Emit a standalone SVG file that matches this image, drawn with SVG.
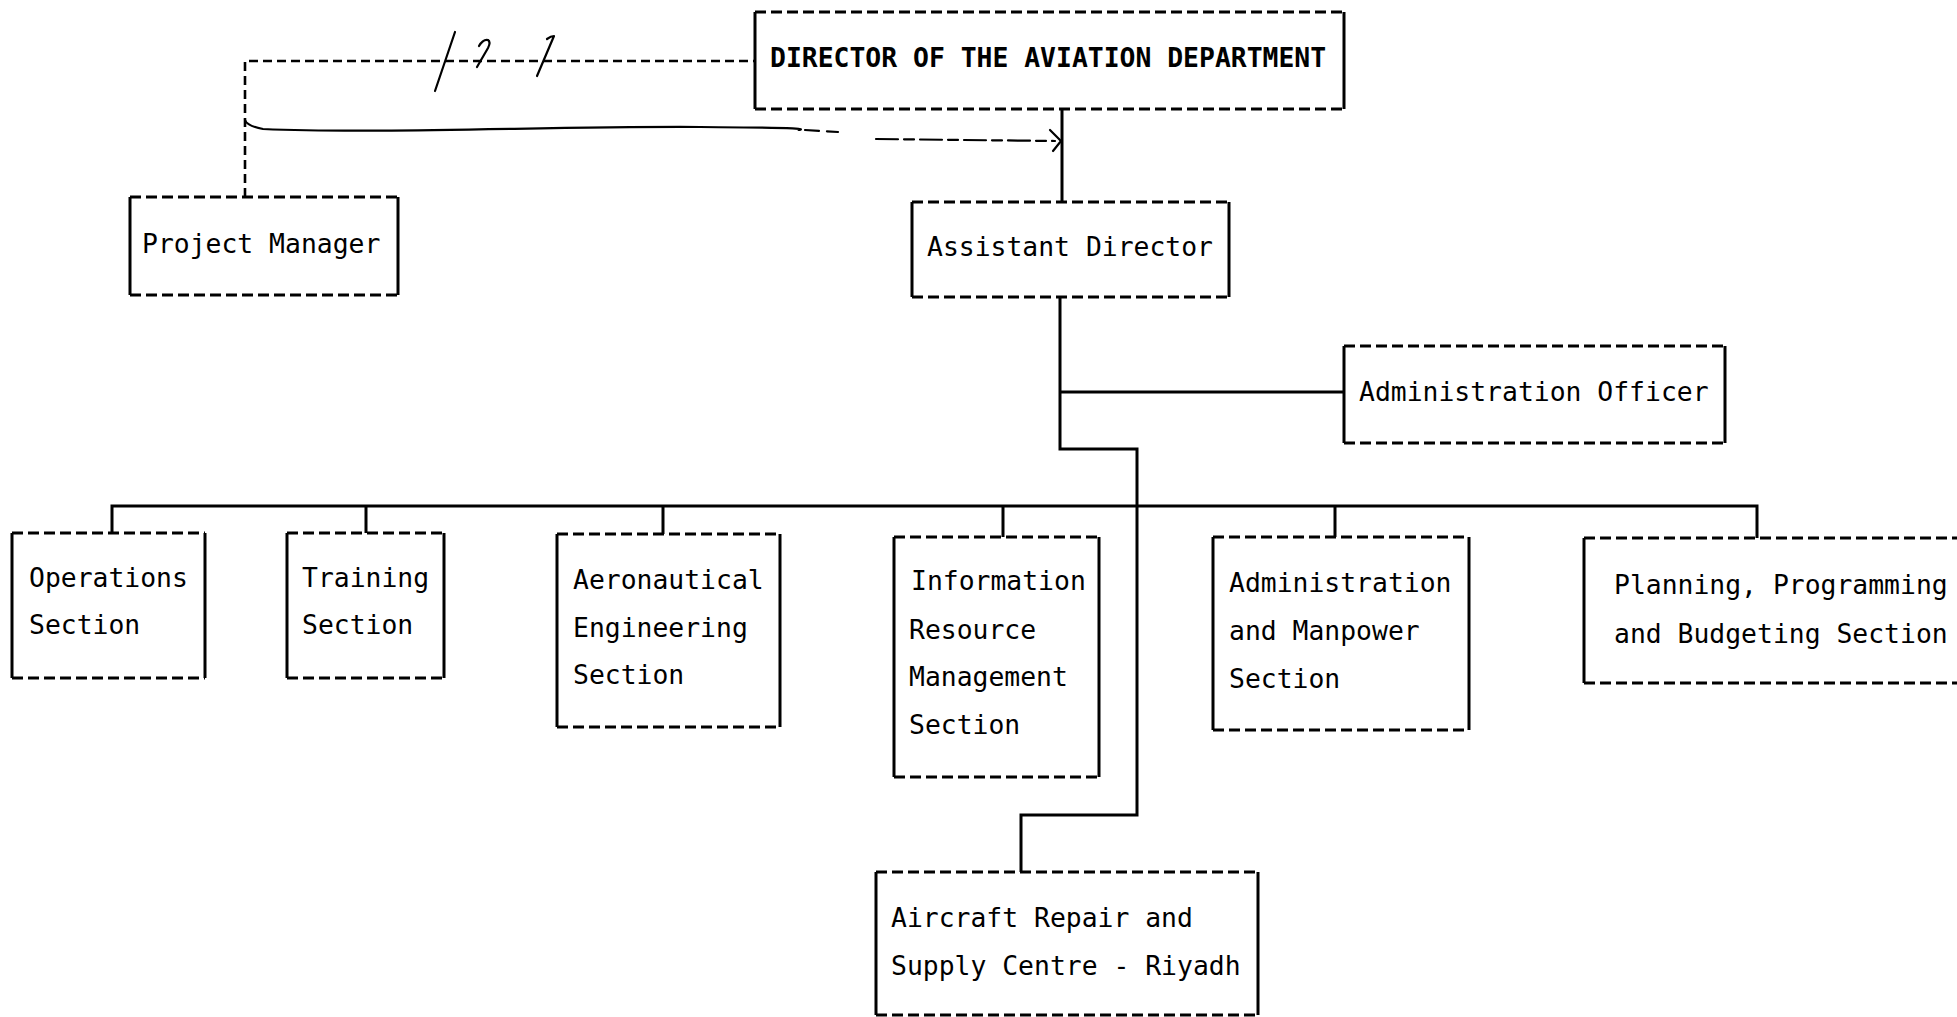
<svg xmlns="http://www.w3.org/2000/svg" width="1957" height="1017" viewBox="0 0 1957 1017">
<style>
  .bg{fill:#fff}
  .dh{stroke:#000;stroke-width:3.2;stroke-dasharray:11 5;fill:none}
  .sv{stroke:#000;stroke-width:3;fill:none}
  .con{stroke:#000;stroke-width:3;fill:none}
  .dcon{stroke:#000;stroke-width:2.6;stroke-dasharray:9 5;fill:none}
  .hand{stroke:#000;stroke-width:2.2;fill:none;stroke-linecap:round;stroke-linejoin:round}
  text{font-family:"DejaVu Sans Mono","Liberation Mono",monospace;font-size:26.4px;fill:#000}
  .b{font-weight:bold}
</style>
<rect class="bg" x="0" y="0" width="1957" height="1017"/>

<g id="connectors">
  <path class="con" d="M1062,109 V202"/>
  <path class="con" d="M1060,297 V449 H1137 V815 H1021 V872"/>
  <path class="con" d="M1060,392 H1344"/>
  <path class="con" d="M112,533 V506 H1757 V538"/>
  <path class="con" d="M366,506 V533 M663,506 V534 M1003,506 V537 M1335,506 V537"/>
  <path class="dcon" d="M245,197 V61 H755"/>
  <path class="hand" d="M245,120 q2,6 18,9 C380,134 560,126 700,127 S790,130 800,130"/>
  <path class="hand" stroke-dasharray="14 8" stroke-width="1.6" d="M805,130 L838,132"/>
  <path class="hand" stroke-dasharray="22 6 10 6" stroke-width="1.6" d="M876,139 L1055,141"/>
  <path class="hand" stroke-width="2.6" d="M1050,130 L1061,141 L1053,151"/>
  <path class="hand" stroke-width="3" d="M455,32 L435,91"/>
  <path class="hand" d="M479,46 q4,-7 9,-6 q3,2 0,8 L477,67"/>
  <path class="hand" d="M547,39 q4,-3 7,-3 L537,76"/>
</g>

<g id="director">
  <path class="dh" d="M755,12 H1344 M755,109 H1344"/>
  <path class="sv" d="M755,12 V109 M1344,12 V109"/>
  <text class="b" x="770" y="67">DIRECTOR OF THE AVIATION DEPARTMENT</text>
</g>
<g id="project-manager">
  <path class="dh" d="M130,197 H398 M130,295 H398"/>
  <path class="sv" d="M130,197 V295 M398,197 V295"/>
  <text x="142" y="253">Project Manager</text>
</g>
<g id="assistant-director">
  <path class="dh" d="M912,202 H1229 M912,297 H1229"/>
  <path class="sv" d="M912,202 V297 M1229,202 V297"/>
  <text x="927" y="256">Assistant Director</text>
</g>
<g id="administration-officer">
  <path class="dh" d="M1344,346 H1725 M1344,443 H1725"/>
  <path class="sv" d="M1344,346 V443 M1725,346 V443"/>
  <text x="1359" y="401">Administration Officer</text>
</g>
<g id="operations">
  <path class="dh" d="M12,533 H205 M12,678 H205"/>
  <path class="sv" d="M12,533 V678 M205,533 V678"/>
  <text x="29" y="587">Operations</text>
  <text x="29" y="634">Section</text>
</g>
<g id="training">
  <path class="dh" d="M287,533 H444 M287,678 H444"/>
  <path class="sv" d="M287,533 V678 M444,533 V678"/>
  <text x="302" y="587">Training</text>
  <text x="302" y="634">Section</text>
</g>
<g id="aeronautical">
  <path class="dh" d="M557,534 H780 M557,727 H780"/>
  <path class="sv" d="M557,534 V727 M780,534 V727"/>
  <text x="573" y="589">Aeronautical</text>
  <text x="573" y="637">Engineering</text>
  <text x="573" y="684">Section</text>
</g>
<g id="information-resource">
  <path class="dh" d="M894,537 H1099 M894,777 H1099"/>
  <path class="sv" d="M894,537 V777 M1099,537 V777"/>
  <text x="911" y="590">Information</text>
  <text x="909" y="639">Resource</text>
  <text x="909" y="686">Management</text>
  <text x="909" y="734">Section</text>
</g>
<g id="administration-manpower">
  <path class="dh" d="M1213,537 H1469 M1213,730 H1469"/>
  <path class="sv" d="M1213,537 V730 M1469,537 V730"/>
  <text x="1229" y="592">Administration</text>
  <text x="1229" y="640">and Manpower</text>
  <text x="1229" y="688">Section</text>
</g>
<g id="planning">
  <path class="dh" d="M1584,538 H1990 M1584,683 H1990"/>
  <path class="sv" d="M1584,538 V683"/>
  <text x="1614" y="594">Planning, Programming</text>
  <text x="1614" y="643">and Budgeting Section</text>
</g>
<g id="aircraft-repair">
  <path class="dh" d="M876,872 H1258 M876,1015 H1258"/>
  <path class="sv" d="M876,872 V1015 M1258,872 V1015"/>
  <text x="891" y="927">Aircraft Repair and</text>
  <text x="891" y="975">Supply Centre - Riyadh</text>
</g>
</svg>
